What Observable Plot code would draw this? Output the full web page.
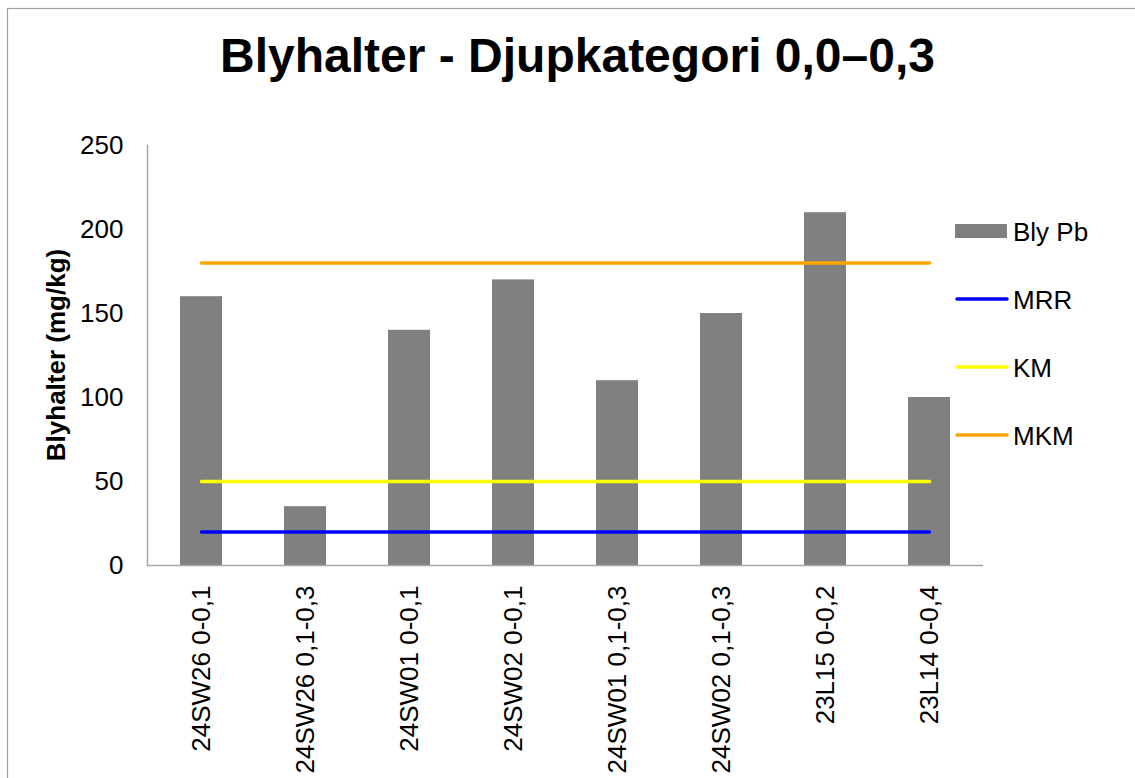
<!DOCTYPE html>
<html>
<head>
<meta charset="utf-8">
<script src="https://cdn.jsdelivr.net/npm/d3@7"></script>
<script src="https://cdn.jsdelivr.net/npm/@observablehq/plot@0.6"></script>
<style>
  body { margin: 0; background: #fff; }
  #wrap { position: relative; width: 1135px; height: 778px; overflow: hidden; background: #fff;
          font-family: "Liberation Sans", Arial, sans-serif; }
  #wrap > svg { position: absolute; left: 0; top: 0; }
</style>
</head>
<body>
<div id="wrap"></div>
<script>
const categories = ["24SW26 0-0,1", "24SW26 0,1-0,3", "24SW01 0-0,1", "24SW02 0-0,1",
                    "24SW01 0,1-0,3", "24SW02 0,1-0,3", "23L15 0-0,2", "23L14 0-0,4"];
const blyPb = [160, 35, 140, 170, 110, 150, 210, 100];
const mrr = [20, 20, 20, 20, 20, 20, 20, 20];
const km  = [50, 50, 50, 50, 50, 50, 50, 50];
const mkm = [180, 180, 180, 180, 180, 180, 180, 180];
const yTicks = [0, 50, 100, 150, 200, 250];
const seriesNames = ["Bly Pb", "MRR", "KM", "MKM"];
const seriesColors = ["#808080", "#0000ff", "#ffff00", "#ffa500"];
const titleText = "Blyhalter - Djupkategori 0,0–0,3";
const yLabelText = "Blyhalter (mg/kg)";

const FONT = '"Liberation Sans", Arial, sans-serif';

const barData = categories.map((c, i) => ({cat: c, v: blyPb[i]}));
const lineSeries = [["MRR", mrr], ["KM", km], ["MKM", mkm]];
const lineData = lineSeries.flatMap(([name, vals]) =>
  categories.map((c, i) => ({cat: c, v: vals[i], series: name})));

const chart = Plot.plot({
  width: 1135,
  height: 778,
  marginLeft: 147,
  marginRight: 152,
  marginTop: 145,
  marginBottom: 213,
  style: {fontFamily: FONT, fontSize: "26px", color: "#000", background: "transparent", overflow: "visible"},
  x: {domain: categories, paddingInner: 0.6, paddingOuter: 0.3, label: null},
  y: {domain: [0, 250], label: null},
  color: {domain: seriesNames.slice(1), range: seriesColors.slice(1)},
  marks: [
    Plot.barY(barData, {x: "cat", y: "v", fill: seriesColors[0]}),
    Plot.ruleY([0], {stroke: "#a6a6a6", strokeWidth: 1.5}),
    Plot.frame({anchor: "left", stroke: "#a6a6a6", strokeWidth: 1.5}),
    Plot.lineY(lineData, {x: "cat", y: "v", z: "series", stroke: "series", strokeWidth: 3.5, strokeLinecap: "round"}),
    Plot.axisY({ticks: yTicks, tickSize: 0, tickPadding: 24, fontSize: 26, label: null}),
    Plot.axisX({tickRotate: -90, tickSize: 0, tickPadding: 20, fontSize: 26, label: null})
  ]
});
document.getElementById("wrap").appendChild(chart);

// Overlay: chart border, title, y label, legend
const ns = "http://www.w3.org/2000/svg";
const ov = d3.select("#wrap").append("svg")
  .attr("xmlns", ns).attr("width", 1135).attr("height", 778)
  .style("font-family", FONT);

ov.append("rect").attr("x", 7.5).attr("y", 8.5).attr("width", 1200).attr("height", 900)
  .attr("fill", "none").attr("stroke", "#a0a0a0").attr("stroke-width", 1.2);

ov.append("text").attr("x", 577.5).attr("y", 72).attr("text-anchor", "middle")
  .attr("font-size", 48).attr("font-weight", "bold").attr("fill", "#000").text(titleText);

ov.append("text").attr("transform", "translate(65,355) rotate(-90)").attr("text-anchor", "middle")
  .attr("font-size", 26).attr("font-weight", "bold").attr("fill", "#000").text(yLabelText);

const lg = ov.append("g");
seriesNames.forEach((name, i) => {
  const cy = 231 + i * 68;
  if (i === 0) {
    lg.append("rect").attr("x", 955).attr("y", cy - 7).attr("width", 52).attr("height", 14)
      .attr("fill", seriesColors[i]);
  } else {
    lg.append("line").attr("x1", 957).attr("x2", 1007).attr("y1", cy).attr("y2", cy)
      .attr("stroke", seriesColors[i]).attr("stroke-width", 3.5).attr("stroke-linecap", "round");
  }
  lg.append("text").attr("x", 1013).attr("y", cy + 9.5).attr("font-size", 26).attr("fill", "#000").text(name);
});
</script>
</body>
</html>
